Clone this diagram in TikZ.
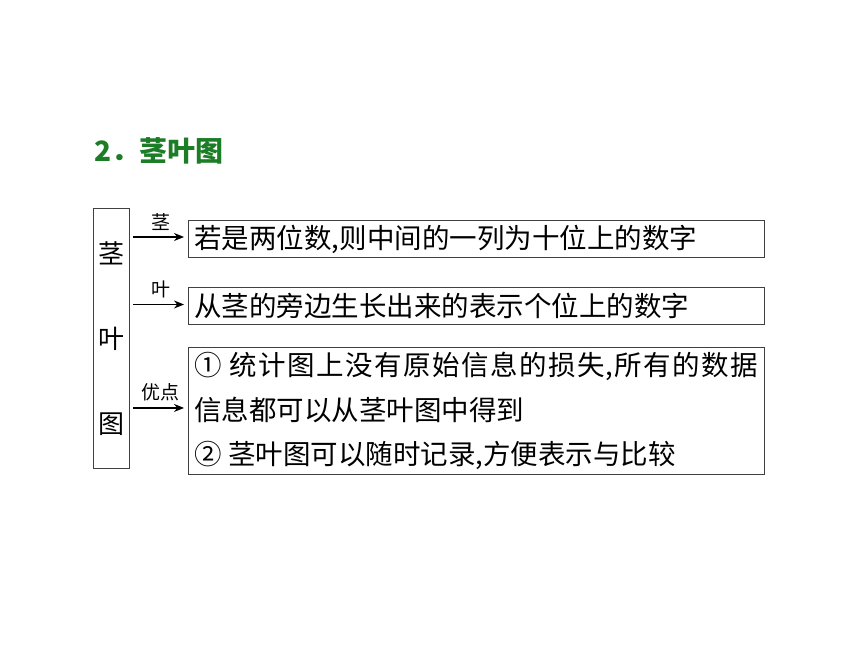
\documentclass[tikz,border=0pt]{standalone}
\usepackage{fontspec}
\usetikzlibrary{arrows.meta}
\newfontfamily\cjk{Noto Sans CJK SC}
\XeTeXlinebreaklocale "zh"
\XeTeXlinebreakskip=0pt plus 4pt
\definecolor{titelgruen}{RGB}{28,125,38}
\tikzset{
    kasten/.style={draw=black!75, line width=0.9pt, anchor=west, minimum width=576, minimum height=37,
        inner xsep=6pt, text width=564, align=left, font=\cjk\fontsize{27.5}{33}\selectfont},
    pfeil/.style={-{Stealth[length=10pt,width=8pt]}, line width=1.1pt, shorten >=4pt},
    marke/.style={above=6pt, inner sep=0pt, font=\cjk\fontsize{19}{19}\selectfont}
}
\begin{document}
\begin{tikzpicture}[x=1pt, y=-1pt]
    \useasboundingbox (0,0) rectangle (860,645);
    \node[titelgruen, anchor=west, inner sep=0pt, font=\cjk\bfseries\fontsize{28}{28}\selectfont] (titel) at (94,151) {2．茎叶图};
    \node[draw=black!75, line width=0.9pt, minimum width=36, minimum height=260, align=center, font=\cjk\fontsize{26}{85}\selectfont] (stamm) at (111,338.5) {茎\\叶\\图};
    \node[kasten] (zehner) at (188,239) {若是两位数,则中间的一列为十位上的数字};
    \node[kasten] (einer) at (188,305.5) {从茎的旁边生长出来的表示个位上的数字};
    \node[kasten, anchor=north west, minimum height=127, align=justify, font=\cjk\fontsize{27.5}{44.5}\selectfont] (vorteil) at (188,347)
        {① 统计图上没有原始信息的损失,所有的数据\linebreak 信息都可以从茎叶图中得到\\② 茎叶图可以随时记录,方便表示与比较};
    % Pfeile mit Beschriftung
    \draw[pfeil] ([xshift=4pt,yshift=2pt]stamm.east |- zehner.west) -- ([yshift=2pt]zehner.west) node[marke, midway] {茎};
    \draw[pfeil] ([xshift=4pt,yshift=1pt]stamm.east |- einer.west) -- ([yshift=1pt]einer.west) node[marke, midway] {叶};
    \draw[pfeil] ([xshift=4pt,yshift=3pt]stamm.east |- vorteil.west) -- ([yshift=3pt]vorteil.west) node[marke, midway] {优点};
\end{tikzpicture}
\end{document}
